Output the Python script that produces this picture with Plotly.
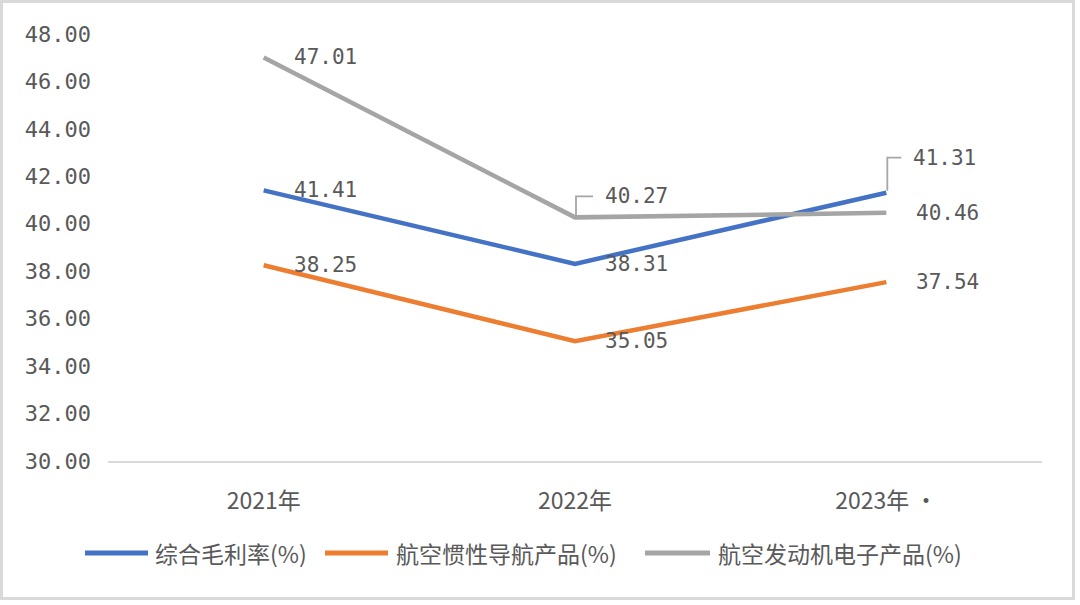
import plotly.graph_objects as go

categories = ["2021年", "2022年", "2023年 ·"]
overall_margin = [41.41, 38.31, 41.31]
inertial_nav = [38.25, 35.05, 37.54]
engine_elec = [47.01, 40.27, 40.46]
series_names = ["综合毛利率(%)", "航空惯性导航产品(%)", "航空发动机电子产品(%)"]
colors = ["#4472C4", "#ED7D31", "#A5A5A5"]
y_ticks = [30, 32, 34, 36, 38, 40, 42, 44, 46, 48]

W, H = 1080, 605
L, R, T, B = 108, 38, 34, 144
PW, PH = W - L - R, H - T - B


def px_x(px):
    return (px - L) / PW


def px_y(py):
    return (H - B - py) / PH


fig = go.Figure()
series = [overall_margin, inertial_nav, engine_elec]
for name, vals, col in zip(series_names, series, colors):
    fig.add_trace(go.Scatter(
        x=categories, y=vals, mode="lines", name=name,
        line=dict(color=col, width=4.5), showlegend=False,
        hoverinfo="x+y+name",
    ))

label_font = dict(family="DejaVu Sans Mono", size=21, color="#595959")
label_specs = []
for vals in series:
    for i in range(len(categories)):
        label_specs.append([vals, i, 28, 0, False])
for spec in label_specs:
    if spec[0] is engine_elec and spec[1] == 1:
        spec[3] = 21
        spec[4] = True
    if spec[0] is overall_margin and spec[1] == 2:
        spec[2] = 25
        spec[3] = 35
        spec[4] = True

annotations = []
shapes = []
for vals, i, xs, ys, leader in label_specs:
    annotations.append(dict(
        x=categories[i], y=vals[i], xref="x", yref="y",
        text=f"{vals[i]:.2f}", showarrow=False,
        xanchor="left", yanchor="middle", xshift=xs, yshift=ys,
        font=label_font,
    ))
    if leader:
        shapes.append(dict(
            type="path", xref="x", yref="y",
            xsizemode="pixel", ysizemode="pixel",
            xanchor=categories[i], yanchor=vals[i],
            path=f"M1,2 V{ys} H{xs - 10}",
            line=dict(color="#A6A6A6", width=1.8),
        ))

legend_items = [(85, 148, 153), (325, 388, 394), (645, 710, 716)]
ly = 553
for (x0, x1, xt), name, col in zip(legend_items, series_names, colors):
    shapes.append(dict(
        type="line", xref="paper", yref="paper",
        x0=px_x(x0), x1=px_x(x1), y0=px_y(ly), y1=px_y(ly),
        line=dict(color=col, width=5),
    ))
    annotations.append(dict(
        x=px_x(xt), y=px_y(ly), xref="paper", yref="paper",
        text=name, showarrow=False, xanchor="left", yanchor="middle",
        font=dict(family="Noto Sans CJK SC", size=23, color="#595959"),
    ))

shapes.append(dict(
    type="rect", xref="paper", yref="paper",
    x0=px_x(1.5), x1=px_x(1073.5), y0=px_y(1.5), y1=px_y(598.5),
    line=dict(color="#D9D9D9", width=3), fillcolor="rgba(0,0,0,0)",
    layer="below",
))

fig.update_layout(
    width=W, height=H,
    margin=dict(l=L, r=R, t=T, b=B, pad=0),
    paper_bgcolor="white", plot_bgcolor="white",
    annotations=annotations, shapes=shapes,
    xaxis=dict(
        type="category", range=[-0.5, 2.5], showgrid=False, zeroline=False,
        showline=True, linecolor="#D9D9D9", linewidth=2,
        ticks="", ticklabelstandoff=18,
        tickfont=dict(family="Noto Sans CJK SC", size=23, color="#595959"),
    ),
    yaxis=dict(
        range=[30, 48], tickvals=y_ticks,
        ticktext=[f"{v:.2f}" for v in y_ticks],
        showgrid=False, zeroline=False, showline=False, ticks="",
        ticklabelstandoff=16,
        tickfont=dict(family="DejaVu Sans Mono", size=22, color="#595959"),
    ),
)

fig.write_html("out.html")
